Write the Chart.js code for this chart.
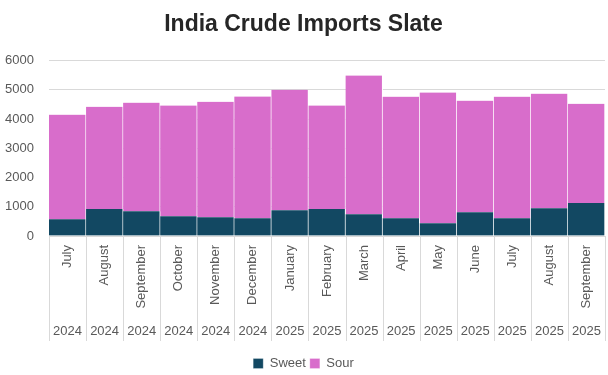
<!DOCTYPE html>
<html>
<head>
<meta charset="utf-8">
<script src="https://cdn.jsdelivr.net/npm/chart.js@4"></script>
<style>
  html, body { margin: 0; padding: 0; background: #fff; }
  #wrap { width: 608px; height: 375px; }
</style>
</head>
<body>
<div id="wrap"><canvas id="chart"></canvas></div>
<script>
// dados
const meses = ['July', 'August', 'September', 'October', 'November', 'December',
  'January', 'February', 'March', 'April', 'May', 'June', 'July', 'August', 'September'];
const anos = ['2024', '2024', '2024', '2024', '2024', '2024',
  '2025', '2025', '2025', '2025', '2025', '2025', '2025', '2025', '2025'];
const sweet = [570, 920, 850, 675, 640, 605, 880, 920, 745, 605, 435, 815, 605, 950, 1125];
const sour = [3580, 3500, 3710, 3785, 3950, 4165, 4120, 3540, 4745, 4160, 4470, 3815, 4160, 3920, 3400];
const yTicks = [0, 1000, 2000, 3000, 4000, 5000, 6000];

const fonte = "'Liberation Sans', Arial, sans-serif";
const cinza = '#595959';
const linha = '#d9d9d9';

// linhas verticais que separam as categorias no eixo (mês + ano)
const separadores = {
  id: 'separadores',
  afterDraw(chart) {
    const x = chart.scales.x, x2 = chart.scales.x2;
    const c = chart.ctx;
    const n = meses.length;
    const topo = x.top, fundo = x2.top + 27;
    c.save();
    c.strokeStyle = linha;
    c.lineWidth = 1;
    for (let i = 0; i <= n; i++) {
      let px;
      if (i === 0) px = x.left;
      else if (i === n) px = x.right;
      else px = (x.getPixelForTick(i - 1) + x.getPixelForTick(i)) / 2;
      px = Math.round(px) + 0.5;
      c.beginPath();
      c.moveTo(px, topo);
      c.lineTo(px, fundo);
      c.stroke();
    }
    c.restore();
  }
};

const ctx = document.getElementById('chart').getContext('2d');
new Chart(ctx, {
  type: 'bar',
  data: {
    labels: meses,
    datasets: [
      { label: 'Sweet', data: sweet, backgroundColor: '#124862', borderColor: '#ffffff',
        borderWidth: { left: 0, right: 1, top: 0, bottom: 0 }, barPercentage: 1, categoryPercentage: 1 },
      { label: 'Sour', data: sour, backgroundColor: '#d86dcb', borderColor: '#ffffff',
        borderWidth: { left: 0, right: 1, top: 0, bottom: 0 }, barPercentage: 1, categoryPercentage: 1 }
    ]
  },
  options: {
    responsive: true,
    maintainAspectRatio: false,
    animation: false,
    layout: { padding: { left: 2, right: 3, top: 0, bottom: -5 } },
    plugins: {
      title: {
        display: true,
        text: 'India Crude Imports Slate',
        color: '#262626',
        font: { family: fonte, size: 23, weight: 'bold' },
        padding: { top: 11, bottom: 22 }
      },
      legend: {
        position: 'bottom',
        labels: { boxWidth: 10, boxHeight: 10, color: cinza, padding: 4,
          font: { family: fonte, size: 13 } }
      },
      tooltip: { enabled: false }
    },
    scales: {
      x: {
        stacked: true,
        weight: 0,
        offset: true,
        grid: { display: false },
        border: { color: linha },
        afterFit: (s) => { s.height = 78; },
        ticks: { color: cinza, minRotation: 90, maxRotation: 90, padding: 1, autoSkip: false,
          font: { family: fonte, size: 13 } }
      },
      x2: {
        type: 'category',
        position: 'bottom',
        labels: anos,
        weight: 1,
        offset: true,
        grid: { display: false },
        border: { display: false },
        afterFit: (s) => { s.height = 39; },
        ticks: { color: cinza, padding: 2, autoSkip: false, maxRotation: 0,
          font: { family: fonte, size: 13 } }
      },
      y: {
        stacked: true,
        min: 0,
        max: 6000,
        afterBuildTicks: (s) => { s.ticks = yTicks.map(v => ({ value: v })); },
        afterFit: (s) => { s.width = 47; },
        grid: { color: linha, drawTicks: false },
        border: { display: false },
        ticks: { color: cinza, padding: 15, callback: (v) => String(v),
          font: { family: fonte, size: 13 } }
      }
    }
  },
  plugins: [separadores]
});
</script>
</body>
</html>
